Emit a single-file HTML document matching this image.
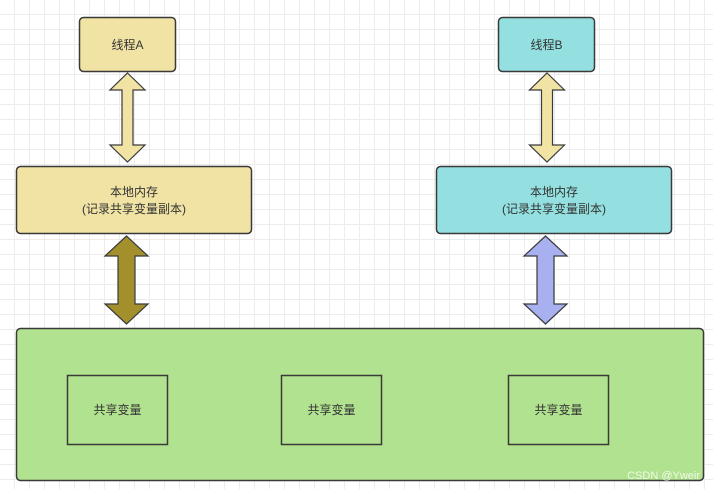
<!DOCTYPE html>
<html><head><style>
body{margin:0;width:713px;height:489px;overflow:hidden;background:#fff;
background-image:linear-gradient(#ececec 1px,transparent 1px),linear-gradient(90deg,#ececec 1px,transparent 1px);background-size:15px 15px;background-position:-1px -1px}
</style></head><body>
<svg width="713" height="489" style="position:absolute;left:0;top:0" font-family="Liberation Sans, Noto Sans CJK SC, sans-serif" font-size="12" fill="#333">
<rect x="79.5" y="17.5" width="96" height="54" rx="4" fill="#f0e3a4" stroke="#3a3a3a" stroke-width="1.5"/>
<text x="127.5" y="49" text-anchor="middle" fill="#333">线程A</text>
<rect x="498.5" y="17.5" width="96" height="54" rx="4" fill="#94e0e0" stroke="#3a3a3a" stroke-width="1.5"/>
<text x="546.5" y="49" text-anchor="middle" fill="#333">线程B</text>
<rect x="16.5" y="166.5" width="235" height="67" rx="4" fill="#f0e3a4" stroke="#3a3a3a" stroke-width="1.5"/>
<text x="134" y="196" text-anchor="middle">本地内存</text>
<text x="134" y="213" text-anchor="middle">(记录共享变量副本)</text>
<rect x="436.5" y="166.5" width="235" height="67" rx="4" fill="#94e0e0" stroke="#3a3a3a" stroke-width="1.5"/>
<text x="554" y="196" text-anchor="middle">本地内存</text>
<text x="554" y="213" text-anchor="middle">(记录共享变量副本)</text>
<!-- small arrows -->
<polygon points="127.5,73 145,90 133,90 133,145 145,145 127.5,162 110,145 122,145 122,90 110,90" fill="#f0e3a4" stroke="#3a3a3a" stroke-width="1.2"/>
<polygon points="547,73 564.5,90 552.5,90 552.5,145 564.5,145 547,162 529.5,145 541.5,145 541.5,90 529.5,90" fill="#f0e3a4" stroke="#3a3a3a" stroke-width="1.2"/>
<!-- big arrows -->
<polygon points="126.5,236 148,256 135,256 135,304 148,304 126.5,324 105,304 118,304 118,256 105,256" fill="#a38f2c" stroke="#3a3a3a" stroke-width="1.2"/>
<polygon points="545.5,236 567,256 554,256 554,304 567,304 545.5,324 524,304 537,304 537,256 524,256" fill="#a9b0f0" stroke="#3a3a3a" stroke-width="1.2"/>
<rect x="16.5" y="328.5" width="687" height="152" rx="4" fill="#b1e28f" stroke="#3a3a3a" stroke-width="1.5"/>
<rect x="67.5" y="375.5" width="100" height="69" fill="none" stroke="#3a3a3a" stroke-width="1.5"/>
<text x="117.5" y="414" text-anchor="middle">共享变量</text>
<rect x="281.5" y="375.5" width="100" height="69" fill="none" stroke="#3a3a3a" stroke-width="1.5"/>
<text x="331.5" y="414" text-anchor="middle">共享变量</text>
<rect x="508.5" y="375.5" width="100" height="69" fill="none" stroke="#3a3a3a" stroke-width="1.5"/>
<text x="558.5" y="414" text-anchor="middle">共享变量</text>
<text x="700" y="479" text-anchor="end" font-size="11" fill="#fff" opacity="0.8">CSDN @Yweir</text>
</svg>
</body></html>
